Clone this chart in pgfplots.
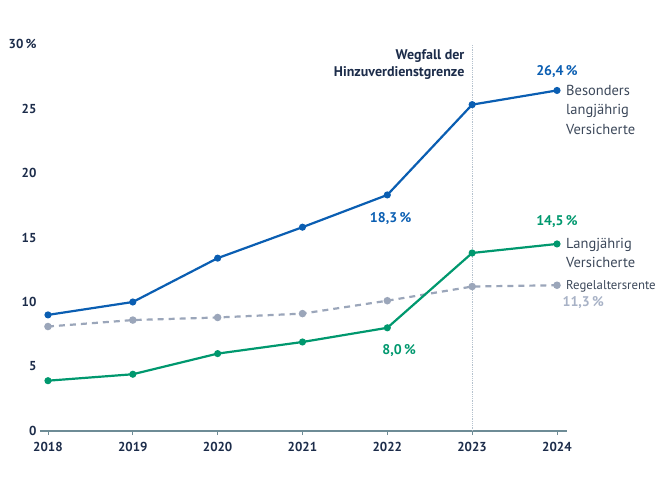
\documentclass[border=0pt]{standalone}
\usepackage{pgfplots}
\pgfplotsset{compat=1.18}
\usepackage{fontspec}
\setmainfont{PT Sans}

\definecolor{blau}{RGB}{10,94,178}
\definecolor{gruen}{RGB}{0,152,110}
\definecolor{grau}{RGB}{155,166,186}
\definecolor{grauhell}{RGB}{168,178,198}
\definecolor{navy}{RGB}{28,44,74}
\definecolor{txt}{RGB}{60,72,90}
\definecolor{gitter}{RGB}{190,206,220}
\definecolor{achse}{RGB}{110,140,150}

\begin{document}
\begin{tikzpicture}[x=1pt,y=1pt]
% fixed canvas around the plot box
\useasboundingbox (-40,-65) rectangle (621,431);
\begin{axis}[
  at={(0,0)}, anchor=south west,
  scale only axis,
  width=527pt, height=387pt,
  xmin=2017.906, xmax=2024.118,
  ymin=0, ymax=30,
  axis x line*=bottom,
  axis y line=none,
  x axis line style={achse, line width=1.1pt},
  xtick={2018,...,2024},
  xticklabels={2018,2019,2020,2021,2022,2023,2024},
  ytick={0,5,...,30},
  tick align=outside,
  major tick length=4pt,
  tick style={achse, line width=0.6pt},
  xticklabel style={font=\fontsize{13}{13}\selectfont\bfseries, text=navy, yshift=-4pt},
  ymajorgrids,
  grid style={gitter, densely dotted, line width=0.8pt},
  clip=false,
]
% y tick labels drawn as text to the left of the plot
\pgfplotsinvokeforeach{0,5,10,15,20,25}{
  \node[anchor=east, font=\fontsize{13}{13}\selectfont\bfseries, text=navy] at (axis cs:2017.906,#1) {#1\hspace{2pt}};
}
\node[anchor=east, font=\fontsize{13}{13}\selectfont\bfseries, text=navy] at (axis cs:2017.906,30) {30\,\%\hspace{2pt}};

% marker line for 2023
\draw[gitter!85!gray, densely dotted, line width=0.8pt] (axis cs:2023,0) -- (axis cs:2023,30);
\node[anchor=east, align=right, font=\fontsize{14}{17}\selectfont\bfseries, text=navy]
  at (axis cs:2022.95,28.41) {Wegfall der\\Hinzuverdienstgrenze};

% Regelaltersrente
\addplot[grau, line width=2.2pt, dash pattern=on 6pt off 5pt, mark=*, mark size=2.6pt, mark options={solid}]
  coordinates {(2018,8.1) (2019,8.6) (2020,8.8) (2021,9.1) (2022,10.1) (2023,11.2) (2024,11.3)};
% Besonders langjährig Versicherte
\addplot[blau, line width=2.2pt, mark=*, mark size=2.4pt]
  coordinates {(2018,9.0) (2019,10.0) (2020,13.4) (2021,15.8) (2022,18.3) (2023,25.3) (2024,26.4)};
% Langjährig Versicherte
\addplot[gruen, line width=2.2pt, mark=*, mark size=2.4pt]
  coordinates {(2018,3.9) (2019,4.4) (2020,6.0) (2021,6.9) (2022,8.0) (2023,13.8) (2024,14.5)};

% value labels
\node[font=\fontsize{14}{14}\selectfont\bfseries, text=blau] at (axis cs:2024,27.83) {26,4\,\%};
\node[font=\fontsize{14}{14}\selectfont\bfseries, text=blau] at (axis cs:2022.04,16.5) {18,3\,\%};
\node[font=\fontsize{14}{14}\selectfont\bfseries, text=gruen] at (axis cs:2024,16.2) {14,5\,\%};
\node[font=\fontsize{14}{14}\selectfont\bfseries, text=gruen] at (axis cs:2022.14,6.2) {8,0\,\%};
\node[font=\fontsize{14}{14}\selectfont\bfseries, text=grauhell] at (axis cs:2024.31,9.92) {11,3\,\%};

% series names
\node[anchor=west, inner sep=0pt, align=left, font=\fontsize{14.5}{19.5}\selectfont, text=txt] at (axis cs:2024.106,24.9) {Besonders\\langjährig\\Versicherte};
\node[anchor=west, inner sep=0pt, align=left, font=\fontsize{14.5}{19}\selectfont, text=txt] at (axis cs:2024.106,13.8) {Langjährig\\Versicherte};
\node[anchor=west, inner sep=0pt, font=\fontsize{12.8}{12.8}\selectfont, text=txt] at (axis cs:2024.106,11.24) {Regelaltersrente};
\end{axis}
\end{tikzpicture}
\end{document}
